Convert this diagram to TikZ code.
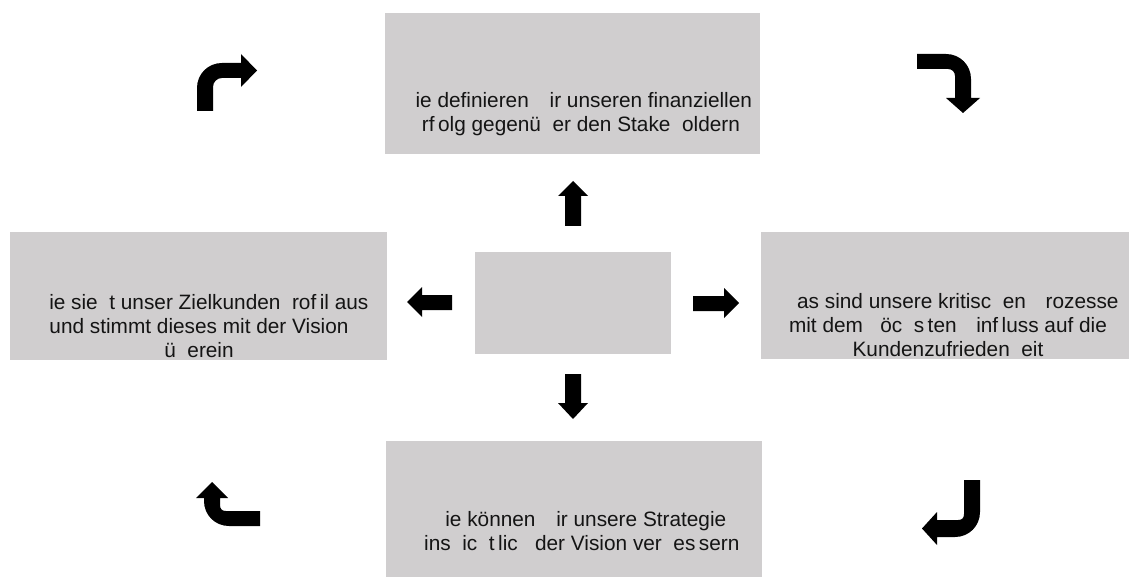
\documentclass[tikz,border=0pt]{standalone}
\usepackage{fontspec}
\setmainfont{Liberation Sans}
\begin{document}
\begin{tikzpicture}[x=1pt,y=-1pt,
  box/.style={fill=boxgray,draw=none},
  txt/.style={align=center,font=\fontsize{20.8}{24}\selectfont,inner sep=0pt,text=black!92},
  blk/.style={fill=black,draw=none}]
\definecolor{boxgray}{RGB}{208,206,207}
\useasboundingbox (0,0) rectangle (1129,577);
% boxes
\fill[box] (385,13) rectangle (760,154);
\fill[box] (10,232) rectangle (387,360);
\fill[box] (761,232) rectangle (1129,359);
\fill[box] (386,441) rectangle (762,577);
\fill[box] (475,252) rectangle (671,354);
% texts
\node[txt] (ttop) at (574,114) {\phantom{W}ie definieren \phantom{w}ir unseren finanziellen\\ \phantom{E}rf\,olg gegenü\phantom{b}er den Stake\phantom{h}oldern};
\node[txt] (tleft) at (199,326) {\phantom{W}ie sie\phantom{h}t unser Zielkunden\phantom{p}rof\,il aus\\und stimmt dieses mit der Vision\\ü\phantom{b}erein};
\node[txt] (tright) at (948,325) {\phantom{W}as sind unsere kritisc\phantom{h}en \phantom{P}rozesse\\mit dem \phantom{h}öc\phantom{h}s\,ten \phantom{E}inf\,luss auf die\\Kundenzufrieden\phantom{h}eit};
\node[txt] (tbottom) at (576,531) {\phantom{W}ie können \phantom{w}ir unsere Strategie\\ \phantom{h}ins\phantom{h}ic\phantom{h}t\,lic\phantom{h} der Vision ver\phantom{b}es\,sern};
% straight block arrows
\fill[blk] (573,181) -- (588,196) -- (581,196) -- (581,226) -- (565,226) -- (565,196) -- (558,196) -- cycle;
\fill[blk] (573,419) -- (588,403) -- (581,403) -- (581,374) -- (565,374) -- (565,403) -- (558,403) -- cycle;
\fill[blk] (407,302) -- (422,287) -- (422,295) -- (452,295) -- (452,310) -- (422,310) -- (422,317) -- cycle;
\fill[blk] (739,303) -- (724,288) -- (724,296) -- (693,296) -- (693,311) -- (724,311) -- (724,318) -- cycle;
% corner arrows
\fill[blk] (197,111) -- (197,88) .. controls (197,74) and (208,63) .. (222,63) -- (241,63) -- (241,54) -- (257,70.5) -- (241,87) -- (241,78) -- (222,78) .. controls (217,78) and (213,82) .. (213,87) -- (213,111) -- cycle;
\fill[blk] (917,54) -- (946,54) .. controls (960,54) and (971,65) .. (971,79) -- (971,98) -- (980,98) -- (963,113) -- (946,98) -- (955,98) -- (955,76) .. controls (955,72) and (952,69) .. (948,69) -- (917,69) -- cycle;
\fill[blk] (212,482) -- (228,498) -- (220,498) -- (220,505) .. controls (220,509) and (222,511) .. (226,511) -- (260,511) -- (260,526) -- (229,526) .. controls (215,526) and (204,515) .. (204,501) -- (204,498) -- (196,498) -- cycle;
\fill[blk] (964,480) -- (980,480) -- (980,512) .. controls (980,526) and (969,537) .. (955,537) -- (937,537) -- (937,545) -- (922,528.5) -- (937,512) -- (937,520) -- (958,520) .. controls (962,520) and (964,518) .. (964,514) -- cycle;
\end{tikzpicture}
\end{document}
